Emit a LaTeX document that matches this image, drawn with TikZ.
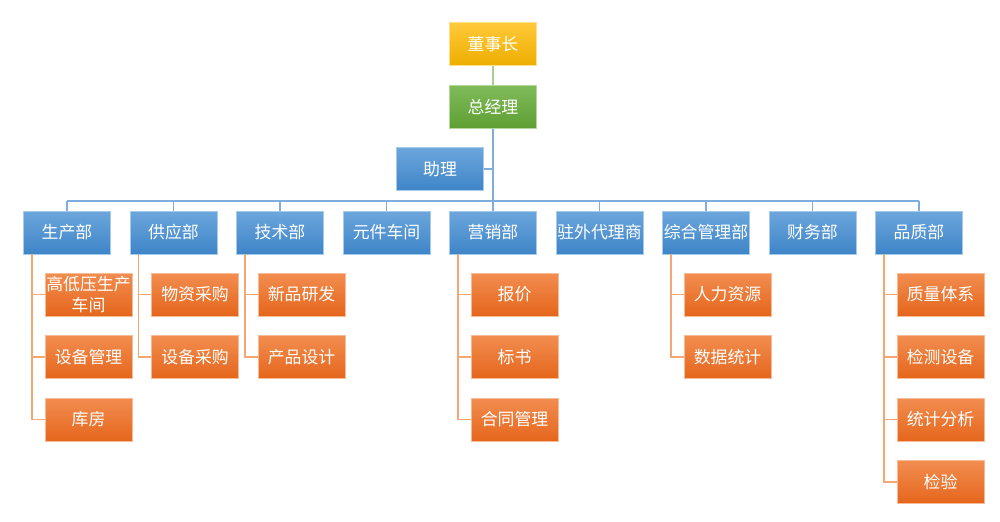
\documentclass[tikz,border=0pt]{standalone}
\usepackage{fontspec}
\newfontfamily\cjk{Noto Sans CJK SC}
\usepackage{tikz}
\usetikzlibrary{arrows.meta,calc}
\definecolor{goldtop}{HTML}{FFC93A}
\definecolor{goldbot}{HTML}{EDAE00}
\definecolor{greentop}{HTML}{80BB5A}
\definecolor{greenbot}{HTML}{5E9F33}
\definecolor{bluetop}{HTML}{6CA6DC}
\definecolor{bluebot}{HTML}{3E85C8}
\definecolor{orangetop}{HTML}{F28D50}
\definecolor{orangebot}{HTML}{E5661C}
\definecolor{blueline}{HTML}{7EAEDE}
\definecolor{orangeline}{HTML}{F4A673}
\definecolor{greenline}{HTML}{A9D18E}
\tikzset{
box/.style={rectangle,minimum width=1.74cm,minimum height=0.86cm,inner sep=0pt,
  text=white,align=center,line width=0.5pt},
capo/.style={box,top color=goldtop,bottom color=goldbot,draw=goldtop!60!white},
direttore/.style={box,top color=greentop,bottom color=greenbot,draw=greentop!60!white},
reparto/.style={box,top color=bluetop,bottom color=bluebot,draw=bluetop!60!white},
ufficio/.style={box,top color=orangetop,bottom color=orangebot,draw=orangetop!60!white},
linea blu/.style={draw=blueline,line width=1pt},
linea arancio/.style={draw=orangeline,line width=1pt},
linea verde/.style={draw=greenline,line width=1pt}}

\begin{document}
\begin{tikzpicture}[x=0.02cm,y=-0.02cm,font=\cjk\fontsize{9.6}{11.5}\selectfont]

\useasboundingbox (0,0) rectangle (1000,521);

\node[capo] (ceo) at (493,44) {董事长};
\node[direttore] (gm) at (493,107) {总经理};
\node[reparto] (ass) at (440,169) {助理};
\coordinate (bus) at (493,201);

\foreach \nome [count=\i] in {生产部,供应部,技术部,元件车间,营销部,驻外代理商,综合管理部,财务部,品质部}
  \node[reparto] (d\i) at ({67+106.5*(\i-1)},232.5) {\nome};

% uffici
\node[ufficio] (c11) at ($(d1)+(21.5,62)$) {高低压生产\\车间};
\node[ufficio] (c12) at ($(d1)+(21.5,124.5)$) {设备管理};
\node[ufficio] (c13) at ($(d1)+(21.5,187)$) {库房};
\node[ufficio] (c21) at ($(d2)+(21.5,62)$) {物资采购};
\node[ufficio] (c22) at ($(d2)+(21.5,124.5)$) {设备采购};
\node[ufficio] (c31) at ($(d3)+(21.5,62)$) {新品研发};
\node[ufficio] (c32) at ($(d3)+(21.5,124.5)$) {产品设计};
\node[ufficio] (c51) at ($(d5)+(21.5,62)$) {报价};
\node[ufficio] (c52) at ($(d5)+(21.5,124.5)$) {标书};
\node[ufficio] (c53) at ($(d5)+(21.5,187)$) {合同管理};
\node[ufficio] (c71) at ($(d7)+(21.5,62)$) {人力资源};
\node[ufficio] (c72) at ($(d7)+(21.5,124.5)$) {数据统计};
\node[ufficio] (c91) at ($(d9)+(21.5,62)$) {质量体系};
\node[ufficio] (c92) at ($(d9)+(21.5,124.5)$) {检测设备};
\node[ufficio] (c93) at ($(d9)+(21.5,187)$) {统计分析};
\node[ufficio] (c94) at ($(d9)+(21.5,249.5)$) {检验};

\path[linea verde] (ceo) edge (gm);
\path[linea blu] (gm.south) edge (bus);
\path[linea blu] (ass.east) edge (ass.east -| gm.south);
\path[linea blu] (d1.north |- bus) edge (d9.north |- bus);
\foreach \i in {1,...,9}
  \path[linea blu] (d\i.north) edge (d\i.north |- bus);

\foreach \p/\c in {1/11,1/12,1/13,2/21,2/22,3/31,3/32,5/51,5/52,5/53,7/71,7/72,9/91,9/92,9/93,9/94}
  \draw[linea arancio] ($(d\p.south west)+(9,0)$) |- (c\c.west);

\end{tikzpicture}
\end{document}
